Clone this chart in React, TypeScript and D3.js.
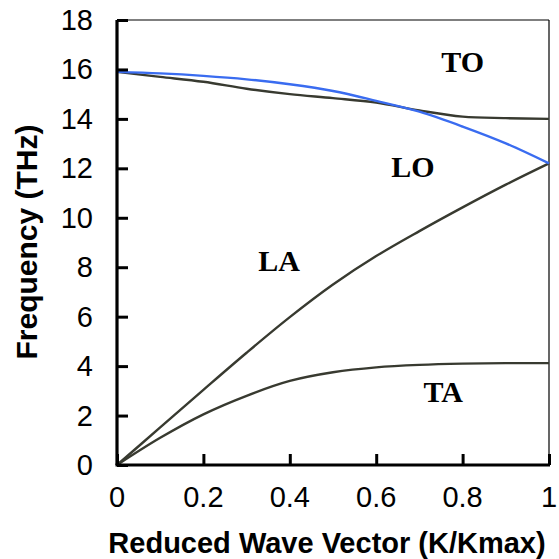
import React, { useRef, useEffect } from "react";
import * as d3 from "d3";

const width = 559;
const height = 559;
const margin = { top: 20, right: 9, bottom: 94, left: 117 };

// reduced wave vector samples
const kValues = [0, 0.1, 0.2, 0.3, 0.4, 0.5, 0.6, 0.7, 0.8, 0.9, 1];

// frequencies (THz)
const taValues = [0, 1.1, 2.05, 2.8, 3.4, 3.75, 3.95, 4.05, 4.1, 4.12, 4.12];
const laValues = [0, 1.52, 3.04, 4.54, 5.98, 7.3, 8.45, 9.46, 10.42, 11.34, 12.2];
const toValues = [15.9, 15.7, 15.5, 15.22, 15.0, 14.84, 14.66, 14.34, 14.09, 14.03, 14.0];
const loValues = [15.9, 15.84, 15.74, 15.6, 15.4, 15.13, 14.73, 14.29, 13.69, 13.01, 12.2];

const xTicks = [0, 0.2, 0.4, 0.6, 0.8, 1];
const xTickLabels = ["0", "0.2", "0.4", "0.6", "0.8", "1"];
const yTicks = [0, 2, 4, 6, 8, 10, 12, 14, 16, 18];

const branchLabels = [
  { name: "TO", k: 0.8, f: 15.9 },
  { name: "LO", k: 0.685, f: 11.65 },
  { name: "LA", k: 0.375, f: 7.85 },
  { name: "TA", k: 0.755, f: 2.55 },
];

const series = [
  { name: "TA", values: taValues, color: "#383a30" },
  { name: "LA", values: laValues, color: "#383a30" },
  { name: "TO", values: toValues, color: "#383a30" },
  { name: "LO", values: loValues, color: "#3a6cf0" },
];

const Chart = () => {
  const ref = useRef<SVGSVGElement>(null);

  useEffect(() => {
    if (!ref.current) return;
    const svg = d3.select(ref.current);
    svg.selectAll("*").remove();

    const x = d3
      .scaleLinear()
      .domain([0, 1])
      .range([margin.left, width - margin.right - 1]);
    const y = d3
      .scaleLinear()
      .domain([0, 18])
      .range([height - margin.bottom, margin.top]);

    // thin frame on top and right
    svg
      .append("line")
      .attr("x1", x(0))
      .attr("x2", x(1))
      .attr("y1", y(18))
      .attr("y2", y(18))
      .attr("stroke", "#000")
      .attr("stroke-width", 1.2);
    svg
      .append("line")
      .attr("x1", x(1))
      .attr("x2", x(1))
      .attr("y1", y(18))
      .attr("y2", y(0))
      .attr("stroke", "#000")
      .attr("stroke-width", 1.2);

    const line = d3
      .line<number>()
      .x((d, i) => x(kValues[i]))
      .y((d) => y(d))
      .curve(d3.curveCatmullRom.alpha(0.5));

    svg
      .append("g")
      .selectAll("path")
      .data(series)
      .join("path")
      .attr("d", (d) => line(d.values))
      .attr("fill", "none")
      .attr("stroke", (d) => d.color)
      .attr("stroke-width", 2.4);

    // left axis, ticks pointing inward
    const yAxis = svg
      .append("g")
      .attr("transform", `translate(${x(0)},0)`)
      .call(d3.axisRight(y).tickValues(yTicks).tickSize(11).tickFormat(() => ""));
    yAxis.select(".domain").attr("stroke-width", 3.2).attr("d", `M0,${y(18)}V${y(0)}`);
    yAxis.selectAll(".tick line").attr("stroke-width", 3);

    svg
      .append("g")
      .selectAll("text")
      .data(yTicks)
      .join("text")
      .attr("x", x(0) - 24)
      .attr("y", (d) => y(d) + 10)
      .attr("text-anchor", "end")
      .style("font", "29px 'Liberation Sans', Arial, sans-serif")
      .text((d) => d);

    // bottom axis, ticks pointing up
    const xAxis = svg
      .append("g")
      .attr("transform", `translate(0,${y(0)})`)
      .call(d3.axisTop(x).tickValues(xTicks).tickSize(11).tickFormat(() => ""));
    xAxis.select(".domain").attr("stroke-width", 3.2).attr("d", `M${x(0) - 1.5},0H${x(1) + 1}`);
    xAxis.selectAll(".tick line").attr("stroke-width", 3);

    svg
      .append("g")
      .selectAll("text")
      .data(xTicks)
      .join("text")
      .attr("x", (d) => x(d))
      .attr("y", y(0) + 42)
      .attr("text-anchor", "middle")
      .style("font", "29px 'Liberation Sans', Arial, sans-serif")
      .text((d, i) => xTickLabels[i]);

    // axis titles
    svg
      .append("text")
      .attr("x", 327)
      .attr("y", 553)
      .attr("text-anchor", "middle")
      .style("font", "bold 29px 'Liberation Sans', Arial, sans-serif")
      .text("Reduced Wave Vector (K/Kmax)");

    svg
      .append("text")
      .attr("transform", "translate(37,242) rotate(-90)")
      .attr("text-anchor", "middle")
      .style("font", "bold 30px 'Liberation Sans', Arial, sans-serif")
      .text("Frequency (THz)");

    // branch labels
    svg
      .append("g")
      .selectAll("text")
      .data(branchLabels)
      .join("text")
      .attr("x", (d) => x(d.k))
      .attr("y", (d) => y(d.f))
      .attr("text-anchor", "middle")
      .style("font", "bold 30px 'Liberation Serif', 'Times New Roman', serif")
      .text((d) => d.name);
  }, []);

  return (
    <svg
      ref={ref}
      width={width}
      height={height}
      style={{ position: "absolute", left: 0, top: 0, background: "#fff" }}
    />
  );
};

export default function App() {
  return <Chart />;
}
